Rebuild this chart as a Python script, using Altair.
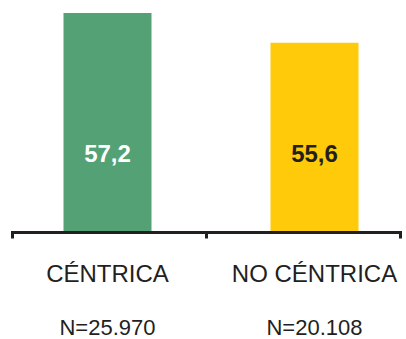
import altair as alt
import pandas as pd

categories = ["CÉNTRICA", "NO CÉNTRICA"]
values = [57.2, 55.6]
value_labels = ["57,2", "55,6"]
n_labels = ["N=25.970", "N=20.108"]

bar_colors = ["#54A175", "#FFCA0A"]
dark = "#231F20"
font = "Liberation Sans"
y_min, y_max = 45.5, 57.9

df = pd.DataFrame({
    "cat": categories,
    "val": values,
    "vlabel": value_labels,
    "nlabel": n_labels,
})

bar_scale = alt.Scale(domain=categories, range=[-8, 406], paddingInner=0, paddingOuter=0)
y_scale = alt.Scale(domain=[y_min, y_max], nice=False, zero=False, clamp=True)
y_enc = alt.Y("val:Q", scale=y_scale, axis=None)

base = alt.Chart(df)

bars = base.mark_bar(size=88).encode(
    x=alt.X("cat:N", scale=bar_scale, axis=None, sort=categories),
    y=y_enc,
    y2=alt.datum(y_min),
    color=alt.Color("cat:N", scale=alt.Scale(domain=categories, range=bar_colors), legend=None),
)

vals = base.mark_text(font=font, fontSize=24, fontWeight="bold", baseline="alphabetic").encode(
    x=alt.X("cat:N", scale=bar_scale, axis=None, sort=categories),
    y=alt.value(162),
    text="vlabel:N",
    color=alt.condition(alt.datum.cat == categories[0], alt.value("white"), alt.value(dark)),
)

cats = base.mark_text(font=font, fontSize=24, baseline="alphabetic", color=dark).encode(
    x=alt.X("cat:N", scale=bar_scale, axis=None, sort=categories),
    y=alt.value(282),
    text="cat:N",
)

ns = base.mark_text(font=font, fontSize=22, baseline="alphabetic", color=dark).encode(
    x=alt.X("cat:N", scale=bar_scale, axis=None, sort=categories),
    y=alt.value(335),
    text="nlabel:N",
)

axis_layer = base.mark_point(opacity=0).encode(
    x=alt.X(
        "cat:N",
        sort=categories,
        scale=alt.Scale(domain=categories, paddingInner=0, paddingOuter=0),
        axis=alt.Axis(
            orient="bottom", labels=False, title=None, offset=1,
            domainColor=dark, domainWidth=3, domainCap="square",
            tickColor=dark, tickWidth=3, tickSize=6, tickBand="extent",
        ),
    ),
    y=y_enc,
)

chart = alt.layer(bars, vals, cats, ns, axis_layer).resolve_scale(
    x="independent"
).properties(
    width=388,
    height=231,
    autosize=alt.AutoSizeParams(type="none"),
    padding={"left": 12, "top": 0, "right": 6, "bottom": 108},
).configure_view(stroke=None)

chart.save("out.html", embed_options={"renderer": "svg", "actions": False})
